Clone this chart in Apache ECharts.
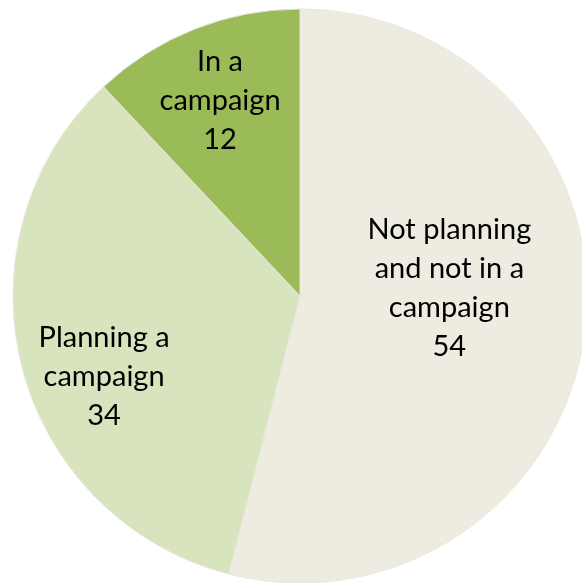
<!DOCTYPE html>
<html>
<head>
<meta charset="utf-8">
<script src="https://cdn.jsdelivr.net/npm/echarts@6/dist/echarts.min.js"></script>
<style>html,body{margin:0;padding:0;background:#fff}#c{width:582px;height:583px}</style>
</head>
<body>
<div id="c"></div>
<script>
var categories = ["Not planning\nand not in a\ncampaign", "Planning a\ncampaign", "In a\ncampaign"];
var values = [54, 34, 12];
var colors = ["#EEECE1", "#D7E4BD", "#9BBB59"];
var labelOffsets = [[4, -26], [-54, 44], [-26, -59]];

var chart = echarts.init(document.getElementById('c'), null, {renderer: 'canvas'});
var data = categories.map(function (name, i) {
  return {
    name: name,
    value: values[i],
    itemStyle: {color: colors[i]},
    label: {offset: labelOffsets[i]}
  };
});
chart.setOption({
  animation: false,
  series: [{
    type: 'pie',
    center: [300, 296],
    radius: [0, 287],
    startAngle: 90,
    clockwise: true,
    avoidLabelOverlap: false,
    itemStyle: {borderColor: '#E9E7DE', borderWidth: 1},
    label: {
      show: true,
      position: 'inside',
      formatter: '{b}\n{c}',
      fontFamily: 'Lato',
      fontSize: 29,
      lineHeight: 39,
      color: '#000',
      align: 'center'
    },
    labelLine: {show: false},
    emphasis: {disabled: true},
    data: data
  }]
});
</script>
</body>
</html>
